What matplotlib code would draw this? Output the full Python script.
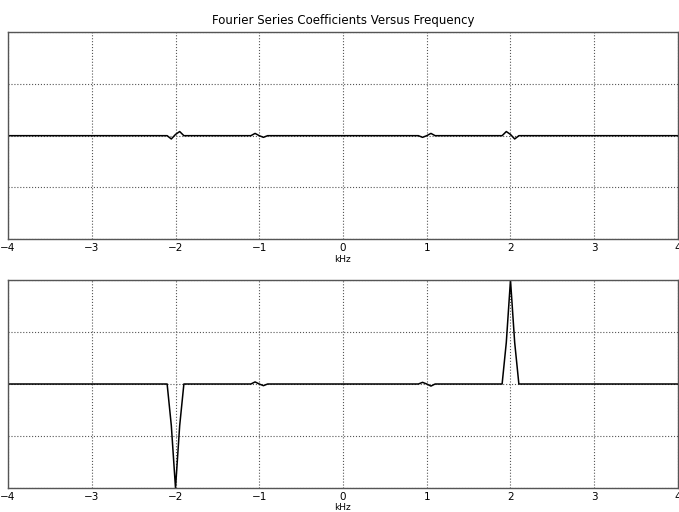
import numpy as np
import matplotlib
matplotlib.use("Agg")
import matplotlib.pyplot as plt

# frequency grid (kHz), 0.05 kHz spacing
freq = np.round(np.arange(-80, 81) * 0.05, 2)

# nonzero points of the real part (small numerical wiggles)
real_f = [-2.05, -2.0, -1.95, -1.05, -0.95, 0.95, 1.05, 1.95, 2.0, 2.05]
real_v = [-0.016, 0.006, 0.02, 0.011, -0.008, -0.008, 0.011, 0.02, 0.006, -0.016]

# nonzero points of the imaginary part
imag_f = [-2.05, -2.0, -1.95, -1.05, -0.95, 0.95, 1.05, 1.95, 2.0, 2.05]
imag_v = [-0.2, -0.5, -0.2, 0.01, -0.008, 0.008, -0.01, 0.2, 0.5, 0.2]

re = np.zeros_like(freq)
im = np.zeros_like(freq)
for f, v in zip(real_f, real_v):
    re[np.isclose(freq, f)] = v
for f, v in zip(imag_f, imag_v):
    im[np.isclose(freq, f)] = v

fig = plt.figure(figsize=(6.79, 5.12), dpi=100)
ax1 = fig.add_axes([0.0118, 0.533, 0.9867, 0.404])
ax2 = fig.add_axes([0.0118, 0.047, 0.9867, 0.406])

for ax, y in [(ax1, re), (ax2, im)]:
    ax.plot(freq, y, color='black', lw=1.1)
    ax.set_xlim(-4, 4)
    ax.set_ylim(-0.5, 0.5)
    ax.set_xticks(range(-4, 5))
    ax.set_yticks([-0.5, -0.25, 0, 0.25, 0.5])
    ax.grid(True, linestyle=':', color='#555555', lw=0.8)
    ax.tick_params(left=False, labelleft=False, length=0, labelsize=7.5, pad=3)
    ax.set_xlabel("kHz", fontsize=6.5, labelpad=1)
    for s in ax.spines.values():
        s.set_color('#555555')
        s.set_linewidth(1.0)

ax1.set_title("Fourier Series Coefficients Versus Frequency", fontsize=8.5, pad=6)

plt.savefig('out.png', dpi=100)
